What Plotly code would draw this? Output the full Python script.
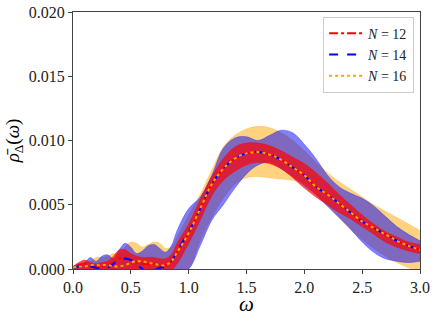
import plotly.graph_objects as go

# omega grid (fine at low frequency where the bands wiggle)
omega = [0.0, 0.05, 0.1, 0.15, 0.2, 0.25, 0.3, 0.35, 0.4, 0.45, 0.5, 0.55, 0.6, 0.65, 0.7, 0.75, 0.8, 0.85, 0.9,
         1.0, 1.1, 1.2, 1.3, 1.4, 1.5, 1.6, 1.7, 1.8, 1.9, 2.0, 2.1, 2.2, 2.3, 2.4, 2.5, 2.6, 2.7, 2.8, 2.9, 3.0]

# N = 12
mean_12 = [0.0001, 0.0003, 0.0004, 0.0003, 0.0002, 0.0002, 0.0003, 0.0005, 0.0008, 0.0009, 0.0007, 0.0005, 0.0004,
           0.0004, 0.0004, 0.0003, 0.0003, 0.0006, 0.0013,
           0.0028, 0.0047, 0.0066, 0.0078, 0.0086, 0.0090, 0.0091, 0.0089, 0.0085, 0.0079, 0.0073, 0.0064, 0.0058,
           0.0051, 0.0044, 0.0037, 0.0032, 0.0027, 0.0022, 0.0018, 0.0015]
upper_12 = [0.0002, 0.0005, 0.0007, 0.0005, 0.0004, 0.0005, 0.0006, 0.0010, 0.0015, 0.0015, 0.0012, 0.0010, 0.0009,
            0.0009, 0.0009, 0.0008, 0.0008, 0.0011, 0.0020,
            0.0035, 0.0054, 0.0072, 0.0086, 0.0095, 0.0098, 0.0098, 0.0096, 0.0092, 0.0087, 0.0082, 0.0075, 0.0067,
            0.0058, 0.0050, 0.0042, 0.0035, 0.0029, 0.0025, 0.0021, 0.0019]
lower_12 = [-0.0003, -0.0003, -0.0003, -0.0003, -0.0003, -0.0003, -0.0003, -0.0003, -0.0002, -0.0002, -0.0002,
            -0.0002, -0.0002, -0.0002, -0.0002, -0.0002, -0.0002, -0.0001, 0.0004,
            0.0020, 0.0038, 0.0057, 0.0069, 0.0076, 0.0081, 0.0083, 0.0082, 0.0078, 0.0071, 0.0063, 0.0056, 0.0050,
            0.0044, 0.0039, 0.0033, 0.0027, 0.0021, 0.0017, 0.0014, 0.0012]

# N = 14
mean_14 = [0.0001, 0.0002, 0.0003, 0.0002, 0.0001, 0.0000, 0.0001, 0.0004, 0.0007, 0.0008, 0.0007, 0.0004, 0.0000,
           -0.0002, -0.0001, 0.0001, 0.0002, 0.0006, 0.0014,
           0.0029, 0.0047, 0.0066, 0.0078, 0.0086, 0.0090, 0.0091, 0.0089, 0.0085, 0.0079, 0.0073, 0.0064, 0.0058,
           0.0051, 0.0044, 0.0037, 0.0032, 0.0027, 0.0022, 0.0018, 0.0015]
upper_14 = [0.0002, 0.0004, 0.0005, 0.0009, 0.0006, 0.0010, 0.0011, 0.0008, 0.0015, 0.0020, 0.0017, 0.0012, 0.0014,
            0.0018, 0.0019, 0.0016, 0.0013, 0.0018, 0.0030,
            0.0047, 0.0056, 0.0073, 0.0094, 0.0102, 0.0103, 0.0100, 0.0104, 0.0108, 0.0106, 0.0097, 0.0086, 0.0073,
            0.0064, 0.0059, 0.0055, 0.0049, 0.0041, 0.0033, 0.0027, 0.0022]
lower_14 = [-0.0004, -0.0004, -0.0004, -0.0004, -0.0004, -0.0004, -0.0004, -0.0004, -0.0004, -0.0004, -0.0004,
            -0.0004, -0.0004, -0.0004, -0.0004, -0.0004, -0.0004, -0.0004, -0.0003,
            0.0000, 0.0018, 0.0038, 0.0050, 0.0063, 0.0074, 0.0081, 0.0083, 0.0078, 0.0072, 0.0065, 0.0058, 0.0049,
            0.0040, 0.0031, 0.0021, 0.0013, 0.0008, 0.0006, 0.0005, 0.0006]

# N = 16
mean_16 = [0.0001, 0.0002, 0.0002, 0.0003, 0.0003, 0.0003, 0.0003, 0.0002, 0.0002, 0.0003, 0.0005, 0.0006, 0.0006,
           0.0005, 0.0004, 0.0003, 0.0003, 0.0006, 0.0013,
           0.0028, 0.0047, 0.0066, 0.0078, 0.0086, 0.0090, 0.0091, 0.0089, 0.0085, 0.0079, 0.0073, 0.0064, 0.0058,
           0.0051, 0.0044, 0.0037, 0.0032, 0.0027, 0.0022, 0.0018, 0.0015]
upper_16 = [0.0001, 0.0003, 0.0005, 0.0006, 0.0009, 0.0009, 0.0010, 0.0012, 0.0012, 0.0017, 0.0021, 0.0020, 0.0017,
            0.0019, 0.0021, 0.0020, 0.0016, 0.0017, 0.0025,
            0.0042, 0.0058, 0.0077, 0.0095, 0.0104, 0.0109, 0.0111, 0.0110, 0.0106, 0.0100, 0.0092, 0.0083, 0.0075,
            0.0068, 0.0062, 0.0056, 0.0050, 0.0045, 0.0040, 0.0035, 0.0030]
lower_16 = [-0.0005, -0.0005, -0.0005, -0.0005, -0.0005, -0.0005, -0.0005, -0.0005, -0.0005, -0.0005, -0.0005,
            -0.0005, -0.0005, -0.0005, -0.0005, -0.0005, -0.0005, -0.0005, -0.0004,
            0.0000, 0.0022, 0.0040, 0.0055, 0.0066, 0.0071, 0.0072, 0.0071, 0.0070, 0.0069, 0.0067, 0.0058, 0.0049,
            0.0040, 0.0031, 0.0023, 0.0016, 0.0010, 0.0005, 0.0001, -0.0003]

y_ticks = [0.0, 0.005, 0.010, 0.015, 0.020]
x_ticks = [0.0, 0.5, 1.0, 1.5, 2.0, 2.5, 3.0]

serif = "Liberation Serif"

fig = go.Figure()

# bands: orange first, then blue, then red on top
bands = [
    (upper_16, lower_16, 'rgba(255,165,0,0.5)'),
    (upper_14, lower_14, 'rgba(0,0,255,0.5)'),
    (upper_12, lower_12, 'rgba(255,0,0,0.7)'),
]
for up, lo, col in bands:
    fig.add_trace(go.Scatter(x=omega, y=up, mode='lines', line=dict(color=col, width=0.6, shape='spline', smoothing=1.0),
                             showlegend=False, hoverinfo='skip'))
    fig.add_trace(go.Scatter(x=omega, y=lo, mode='lines', line=dict(color=col, width=0.6, shape='spline', smoothing=1.0),
                             fill='tonexty', fillcolor=col, showlegend=False, hoverinfo='skip'))

lines = [
    (mean_12, 'red', 'dashdot', '<i>N</i> = 12'),
    (mean_14, 'blue', 'dash', '<i>N</i> = 14'),
    (mean_16, 'orange', 'dot', '<i>N</i> = 16'),
]
for m, col, dash, name in lines:
    fig.add_trace(go.Scatter(x=omega, y=m, mode='lines', name=name,
                             line=dict(color=col, width=2, dash=dash, shape='spline', smoothing=1.0)))

fig.update_layout(
    width=436, height=322,
    margin=dict(l=73, r=16, t=12, b=53),
    plot_bgcolor='white', paper_bgcolor='white',
    font=dict(family=serif, size=15, color='black'),
    legend=dict(x=0.983, y=0.982, xanchor='right', yanchor='top', traceorder='normal',
                bordercolor='#cccccc', borderwidth=1, bgcolor='rgba(255,255,255,0.8)',
                font=dict(family=serif, size=14, color='#222'), tracegroupgap=0, itemwidth=34),
)
fig.update_xaxes(range=[0, 3], tickvals=x_ticks, tickformat='.1f', ticks='outside', ticklen=4,
                 tickfont=dict(family=serif, size=16, color='#222'),
                 showline=True, linecolor='#444', linewidth=1, mirror=True, showgrid=False, zeroline=False,
                 automargin=False)
fig.update_yaxes(range=[0, 0.02], tickvals=y_ticks, tickformat='.3f', ticks='outside', ticklen=4,
                 tickfont=dict(family=serif, size=16, color='#222'),
                 showline=True, linecolor='#444', linewidth=1, mirror=True, showgrid=False, zeroline=False,
                 automargin=False,
                 title=dict(text='<i>ρ̄</i><sub>Δ</sub>(<i>ω</i>)', font=dict(family=serif, size=19), standoff=4))

# x-axis label placed as an annotation to sit closer to the tick labels
fig.add_annotation(text='<i>ω</i>', xref='paper', yref='paper', x=0.5, y=-0.135, yanchor='middle',
                   showarrow=False, font=dict(family=serif, size=21, color='black'))

fig.write_html("out.html", config={'displayModeBar': False},
               post_script="document.body.style.margin='0';")
